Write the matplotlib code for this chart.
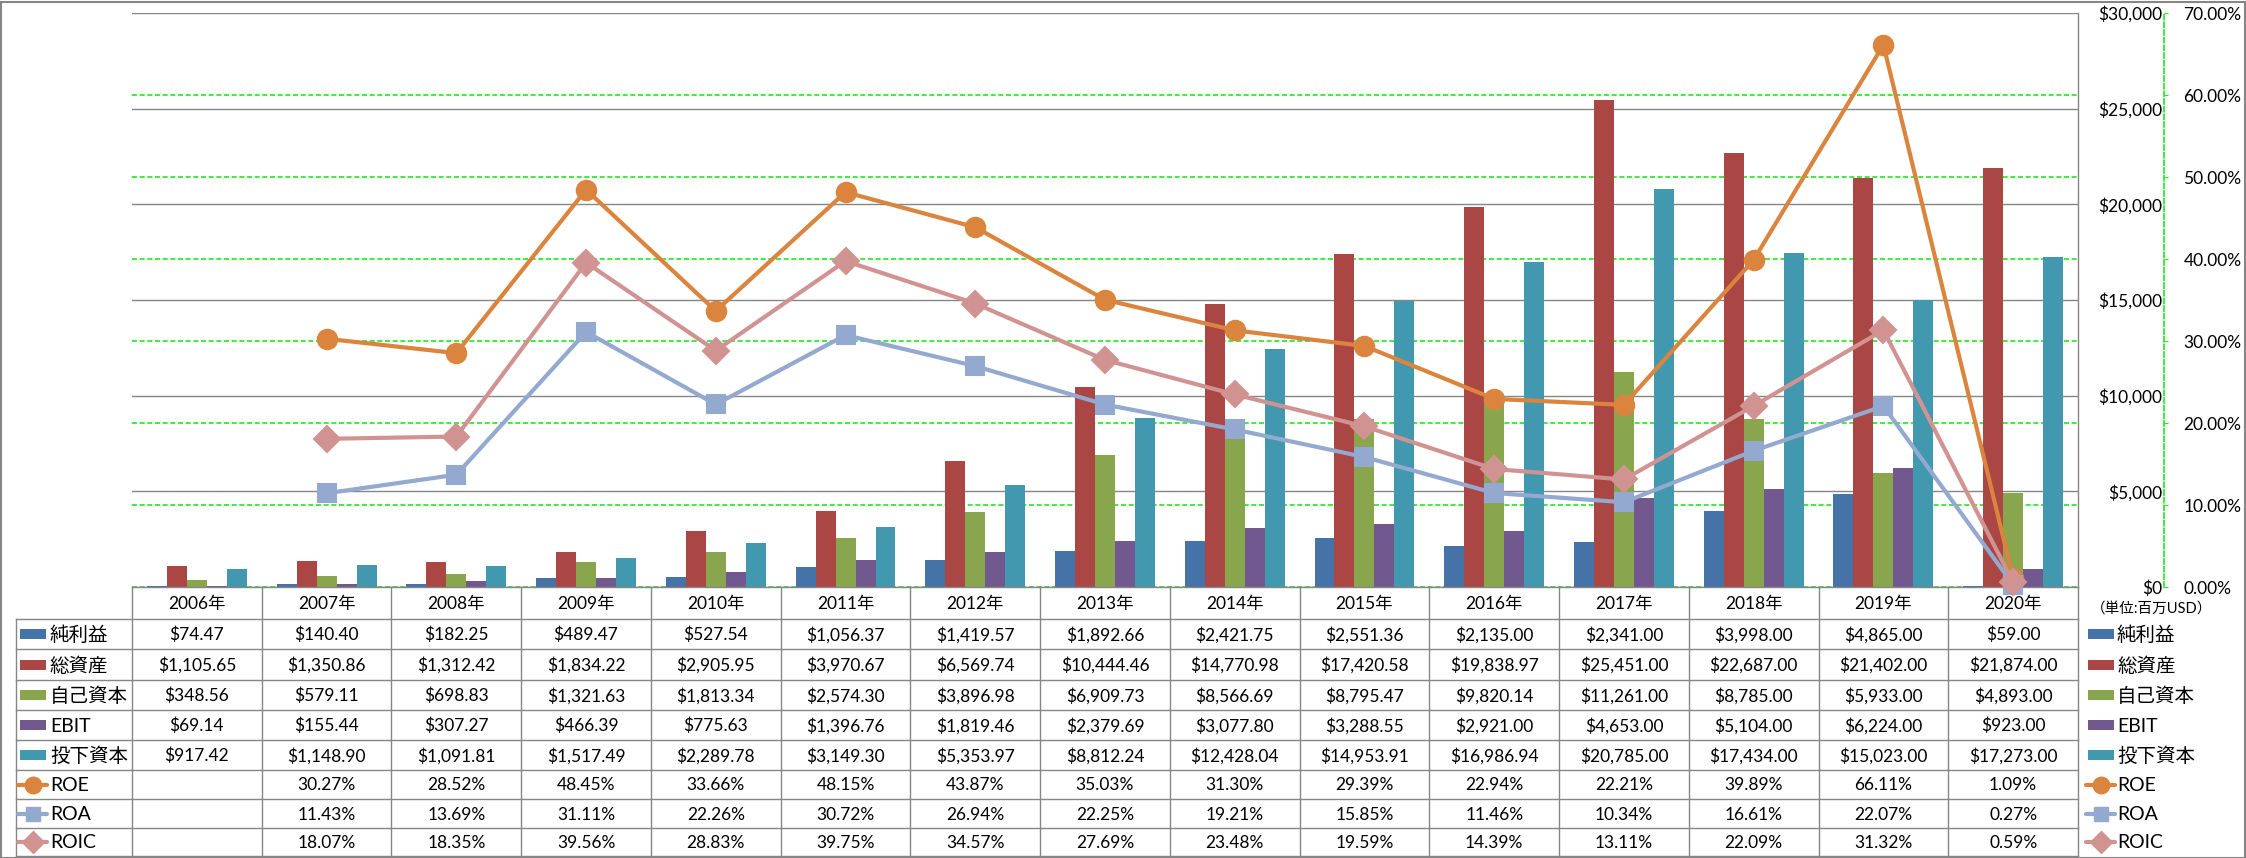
import numpy as np
import matplotlib.pyplot as plt
from matplotlib.patches import Rectangle

plt.rcParams['font.family'] = ['Lato', 'Noto Sans CJK JP']

# データ (単位: 百万USD, 比率は%)
years = ['2006年', '2007年', '2008年', '2009年', '2010年', '2011年', '2012年', '2013年',
         '2014年', '2015年', '2016年', '2017年', '2018年', '2019年', '2020年']
net_income = [74.47, 140.40, 182.25, 489.47, 527.54, 1056.37, 1419.57, 1892.66,
              2421.75, 2551.36, 2135.00, 2341.00, 3998.00, 4865.00, 59.00]
total_assets = [1105.65, 1350.86, 1312.42, 1834.22, 2905.95, 3970.67, 6569.74, 10444.46,
                14770.98, 17420.58, 19838.97, 25451.00, 22687.00, 21402.00, 21874.00]
equity = [348.56, 579.11, 698.83, 1321.63, 1813.34, 2574.30, 3896.98, 6909.73,
          8566.69, 8795.47, 9820.14, 11261.00, 8785.00, 5933.00, 4893.00]
ebit = [69.14, 155.44, 307.27, 466.39, 775.63, 1396.76, 1819.46, 2379.69,
        3077.80, 3288.55, 2921.00, 4653.00, 5104.00, 6224.00, 923.00]
invested = [917.42, 1148.90, 1091.81, 1517.49, 2289.78, 3149.30, 5353.97, 8812.24,
            12428.04, 14953.91, 16986.94, 20785.00, 17434.00, 15023.00, 17273.00]
roe = [np.nan, 30.27, 28.52, 48.45, 33.66, 48.15, 43.87, 35.03,
       31.30, 29.39, 22.94, 22.21, 39.89, 66.11, 1.09]
roa = [np.nan, 11.43, 13.69, 31.11, 22.26, 30.72, 26.94, 22.25,
       19.21, 15.85, 11.46, 10.34, 16.61, 22.07, 0.27]
roic = [np.nan, 18.07, 18.35, 39.56, 28.83, 39.75, 34.57, 27.69,
        23.48, 19.59, 14.39, 13.11, 22.09, 31.32, 0.59]

bar_series = [('純利益', net_income, '#4572A7'),
              ('総資産', total_assets, '#AA4643'),
              ('自己資本', equity, '#89A54E'),
              ('EBIT', ebit, '#71588F'),
              ('投下資本', invested, '#4198AF')]
line_series = [('ROE', roe, '#DB843D', 'o', 14),
               ('ROA', roa, '#93A9CF', 's', 12.5),
               ('ROIC', roic, '#D19392', 'D', 13.5)]

W, H = 2246, 858
fig = plt.figure(figsize=(W / 100, H / 100), dpi=100)
L, R, T, B = 132, 2078, 13, 587
rect = [L / W, 1 - B / H, (R - L) / W, (B - T) / H]
GRAY = '#868686'
GREEN = '#1EE81E'
FS = 12.5

x = np.arange(len(years))

# 比率軸 (緑の点線グリッド)
ax_pct = fig.add_axes(rect, zorder=0)
ax_pct.set_xlim(-0.5, len(years) - 0.5)
ax_pct.set_ylim(0, 70)
ax_pct.set_yticks(np.arange(0, 71, 10))
ax_pct.set_yticklabels(['{:.2f}%'.format(v) for v in np.arange(0, 71, 10)])
ax_pct.yaxis.tick_right()
ax_pct.tick_params(axis='y', length=3, color=GREEN, pad=11, labelsize=FS)
ax_pct.set_xticks([])
ax_pct.grid(axis='y', color=GREEN, linestyle=(0, (3, 1.6)), linewidth=1.2)
for s in ['left', 'top', 'bottom']:
    ax_pct.spines[s].set_visible(False)
ax_pct.spines['right'].set_position(('axes', (2164 - L) / (R - L)))
ax_pct.spines['right'].set_color(GREEN)
ax_pct.spines['right'].set_linestyle((0, (3, 1.6)))
ax_pct.spines['right'].set_linewidth(1.2)

# 金額軸 (棒グラフ)
ax_bar = fig.add_axes(rect, zorder=1, sharex=ax_pct)
ax_bar.patch.set_visible(False)
ax_bar.set_ylim(0, 30000)
ax_bar.set_axisbelow(True)
ax_bar.grid(axis='y', color=GRAY, linewidth=1.0)
ticks = np.arange(0, 30001, 5000)
ax_bar.yaxis.tick_right()
ax_bar.set_yticks(ticks, labels=['${:,.0f}'.format(v) for v in ticks], ha='right')
ax_bar.tick_params(axis='y', length=0, pad=60.5, labelsize=FS)
ax_bar.tick_params(axis='x', bottom=False, labelbottom=False)
for s in ['left', 'top']:
    ax_bar.spines[s].set_visible(False)
for s in ['right', 'bottom']:
    ax_bar.spines[s].set_color(GRAY)
    ax_bar.spines[s].set_linewidth(1.0)

bw = 0.154
for k, (name, vals, col) in enumerate(bar_series):
    ax_bar.bar(x + (k - 2) * bw, vals, width=bw, color=col, linewidth=0)

# 比率の折れ線
ax_line = fig.add_axes(rect, zorder=3, sharex=ax_pct, sharey=ax_pct)
ax_line.patch.set_visible(False)
ax_line.axis('off')
for name, vals, col, mk, ms in line_series:
    ax_line.plot(x, vals, color=col, linewidth=3, marker=mk, markersize=ms,
                 markeredgecolor=col, markeredgewidth=1.5, clip_on=False,
                 solid_joinstyle='round')

# データテーブルと凡例
ov = fig.add_axes([0, 0, 1, 1], zorder=2)
ov.set_xlim(0, W)
ov.set_ylim(H, 0)
ov.axis('off')
ov.patch.set_visible(False)

row_edges = [587, 619, 649, 680, 710, 740, 770, 799, 828, 856]
col_w = (R - L) / len(years)
col_edges = [L + i * col_w for i in range(len(years) + 1)]

for y in row_edges[1:]:
    ov.plot([16, R], [y, y], color=GRAY, lw=1.0)
ov.plot([16, 16], [row_edges[1], row_edges[-1]], color=GRAY, lw=1.0)
for cx in col_edges:
    ov.plot([cx, cx], [row_edges[0], row_edges[-1]], color=GRAY, lw=1.0)

for i, yr in enumerate(years):
    ov.text((col_edges[i] + col_edges[i + 1]) / 2, (row_edges[0] + row_edges[1]) / 2 + 1,
            yr, ha='center', va='center', fontsize=FS)

rows = []
for name, vals, col in bar_series:
    rows.append((name, ['${:,.2f}'.format(v) for v in vals], col, None, 0))
for name, vals, col, mk, ms in line_series:
    rows.append((name, ['' if np.isnan(v) else '{:.2f}%'.format(v) for v in vals], col, mk, ms))

for r, (name, cells, col, mk, ms) in enumerate(rows):
    yc = (row_edges[r + 1] + row_edges[r + 2]) / 2
    for i, txt in enumerate(cells):
        ov.text((col_edges[i] + col_edges[i + 1]) / 2, yc + 1, txt,
                ha='center', va='center', fontsize=FS)
    # 左側の凡例キー / 右側の凡例
    for kx, tx in [(20, 50), (2088, 2117)]:
        if mk is None:
            ov.add_patch(Rectangle((kx, yc - 5), 26, 10, color=col, lw=0))
        else:
            ov.plot([kx - 2, kx + 27], [yc, yc], color=col, lw=3, solid_capstyle='round')
            ov.plot([kx + 12.5], [yc], marker=mk, markersize=ms * 0.85, color=col,
                    markeredgecolor=col)
        ov.text(tx, yc + 1, name, ha='left', va='center', fontsize=14)

ov.text(2152, 609, '（単位:百万USD）', ha='center', va='center', fontsize=10.5)

# 外枠
fig.patches.append(Rectangle((0.5 / W, 0.5 / H), (W - 2) / W, (H - 2) / H,
                             transform=fig.transFigure, fill=False,
                             edgecolor=GRAY, linewidth=1.5))

fig.savefig('out.png', dpi=100)
